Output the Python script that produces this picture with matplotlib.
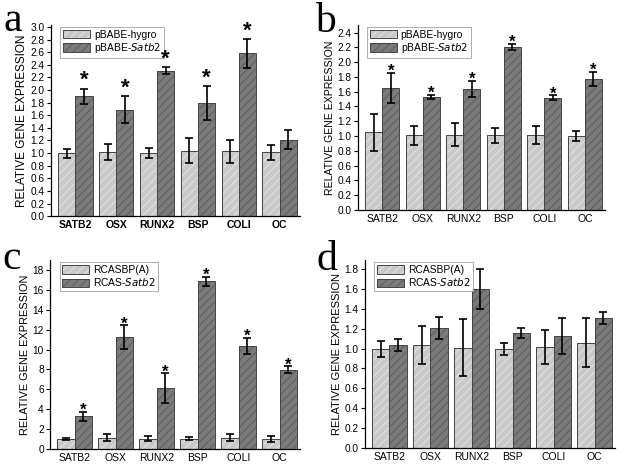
import matplotlib
matplotlib.use("Agg")
from matplotlib import pyplot as plt
from matplotlib.patches import Patch
from matplotlib.legend_handler import HandlerTuple
import numpy as np

genes = ["SATB2", "OSX", "RUNX2", "BSP", "COLI", "OC"]

# panel a
a_ctrl = [1.00, 1.02, 1.00, 1.04, 1.03, 1.01]
a_ctrl_err = [0.07, 0.13, 0.08, 0.20, 0.18, 0.12]
a_satb2 = [1.90, 1.69, 2.31, 1.79, 2.58, 1.21]
a_satb2_err = [0.12, 0.21, 0.05, 0.27, 0.23, 0.15]
a_star = [True, True, True, True, True, False]

# panel b
b_ctrl = [1.05, 1.01, 1.02, 1.01, 1.01, 1.00]
b_ctrl_err = [0.25, 0.13, 0.15, 0.10, 0.12, 0.07]
b_satb2 = [1.65, 1.53, 1.64, 2.21, 1.52, 1.77]
b_satb2_err = [0.20, 0.03, 0.11, 0.04, 0.03, 0.10]
b_star = [True] * 6

# panel c
c_ctrl = [1.0, 1.1, 1.0, 1.0, 1.1, 1.0]
c_ctrl_err = [0.1, 0.35, 0.25, 0.15, 0.35, 0.3]
c_satb2 = [3.3, 11.3, 6.1, 16.9, 10.4, 7.95]
c_satb2_err = [0.45, 1.2, 1.5, 0.45, 0.8, 0.35]
c_star = [True] * 6

# panel d
d_ctrl = [1.00, 1.04, 1.01, 1.00, 1.02, 1.06]
d_ctrl_err = [0.08, 0.19, 0.29, 0.06, 0.17, 0.25]
d_satb2 = [1.04, 1.21, 1.60, 1.16, 1.13, 1.31]
d_satb2_err = [0.06, 0.11, 0.20, 0.05, 0.18, 0.06]
d_star = [False] * 6

LIGHT, LIGHT_HATCH = "#c9c9c9", "#e2e2e2"
DARK, DARK_HATCH = "#7b7b7b", "#5e5e5e"
EDGE = "#444444"

plt.rcParams["font.family"] = ["Liberation Sans", "DejaVu Sans"]
plt.rcParams["hatch.linewidth"] = 0.8

fig = plt.figure(figsize=(6.29, 4.74), dpi=100)


def hatched_bars(ax, x, y, color, hatch_color):
    ax.bar(x, y, width=0.42, color=color, edgecolor=hatch_color, hatch="////", linewidth=0)
    ax.bar(x, y, width=0.42, fill=False, edgecolor=EDGE, linewidth=0.7)


def panel(rect, letter, letter_pos, ctrl, ctrl_err, satb2, satb2_err, stars, ylim, yticks,
          labels, bold_x=False, star_gap=0.0, star_size=14, ylabel_size=8.0):
    ax = fig.add_axes(rect)
    x = np.arange(len(genes))
    hatched_bars(ax, x - 0.21, ctrl, LIGHT, LIGHT_HATCH)
    hatched_bars(ax, x + 0.21, satb2, DARK, DARK_HATCH)
    ax.errorbar(x - 0.21, ctrl, yerr=ctrl_err, fmt="none", ecolor="black", elinewidth=1.2, capsize=3, capthick=1.2)
    ax.errorbar(x + 0.21, satb2, yerr=satb2_err, fmt="none", ecolor="black", elinewidth=1.2, capsize=3, capthick=1.2)

    # significance stars drawn above the legend
    for xi, v, e, s in zip(x, satb2, satb2_err, stars):
        if s:
            ax.text(xi + 0.21, v + e + star_gap, "*", ha="center", va="center",
                    fontsize=star_size, fontweight="bold", zorder=10)

    ax.set_xlim(-0.6, 5.5)
    ax.set_ylim(*ylim)
    ax.set_yticks(yticks)
    ax.set_yticklabels([f"{t:.1f}" if ylim[1] < 5 else f"{t:d}" for t in yticks])
    ax.set_xticks(x)
    ax.set_xticklabels(genes, fontweight="bold" if bold_x else "normal")
    ax.tick_params(axis="x", length=0, labelsize=7.5, pad=3)
    ax.tick_params(axis="y", length=3, width=0.8, labelsize=7.3, pad=1.5)
    for side in ("top", "right"):
        ax.spines[side].set_visible(False)
    for side in ("left", "bottom"):
        ax.spines[side].set_linewidth(0.9)
    ax.set_ylabel("RELATIVE GENE EXPRESSION", fontsize=ylabel_size, labelpad=2)

    h1 = (Patch(facecolor=LIGHT, edgecolor=LIGHT_HATCH, hatch="////", linewidth=0),
          Patch(fill=False, edgecolor=EDGE, linewidth=0.7))
    h2 = (Patch(facecolor=DARK, edgecolor=DARK_HATCH, hatch="////", linewidth=0),
          Patch(fill=False, edgecolor=EDGE, linewidth=0.7))
    leg = ax.legend([h1, h2], labels, handler_map={tuple: HandlerTuple(ndivide=1, pad=0)},
                    loc="upper left", bbox_to_anchor=(0.03, 1.0), fontsize=7.4,
                    fancybox=False, borderpad=0.25, handlelength=2.6, handleheight=0.9,
                    handletextpad=0.4, labelspacing=0.15, borderaxespad=0.2)
    leg.get_frame().set_edgecolor("#999999")
    leg.get_frame().set_linewidth(0.7)

    fig.text(letter_pos[0], letter_pos[1], letter, fontsize=30,
             family="Liberation Serif", ha="left", va="baseline")
    return ax


lab_a = ["pBABE-hygro", "pBABE-$\\it{Satb2}$"]
lab_c = ["RCASBP(A)", "RCAS-$\\it{Satb2}$"]

panel([0.081, 0.544, 0.396, 0.403], "a", (0.006, 1 - 31 / 474), a_ctrl, a_ctrl_err, a_satb2, a_satb2_err, a_star,
      (0, 3.03), np.round(np.arange(0, 3.01, 0.2), 1), lab_a, bold_x=True, star_gap=0.13,
      star_size=16, ylabel_size=8.5)
panel([0.569, 0.557, 0.393, 0.390], "b", (0.501, 1 - 32 / 474), b_ctrl, b_ctrl_err, b_satb2, b_satb2_err, b_star,
      (0, 2.5), np.round(np.arange(0, 2.41, 0.2), 1), lab_a, star_gap=0.02, star_size=12, ylabel_size=7.6)
panel([0.0795, 0.053, 0.3975, 0.398], "c", (0.004, 1 - 269 / 474), c_ctrl, c_ctrl_err, c_satb2, c_satb2_err, c_star,
      (0, 19), list(range(0, 19, 2)), lab_c, star_gap=0.1, star_size=12, ylabel_size=7.9)
panel([0.580, 0.055, 0.398, 0.396], "d", (0.503, 1 - 270 / 474), d_ctrl, d_ctrl_err, d_satb2, d_satb2_err, d_star,
      (0, 1.89), np.round(np.arange(0, 1.81, 0.2), 1), lab_c, ylabel_size=8.0)

fig.savefig("out.png", dpi=100)
